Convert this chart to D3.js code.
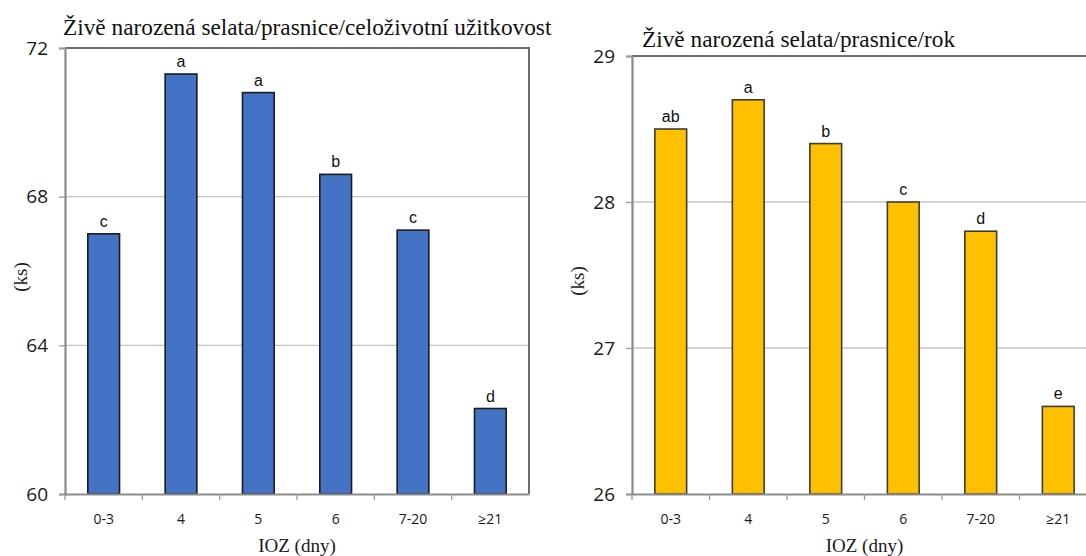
<!DOCTYPE html>
<html>
<head>
<meta charset="utf-8">
<script src="https://cdn.jsdelivr.net/npm/d3@7"></script>
<style>
  html, body { margin: 0; padding: 0; background: #fff; }
  svg { display: block; }
  .serif { font-family: "Liberation Serif", "Times New Roman", serif; }
  .sans { font-family: "Open Sans", "Liberation Sans", sans-serif; }
  .arial { font-family: "Liberation Sans", Arial, sans-serif; }
</style>
</head>
<body>
<svg id="chart" width="1086" height="556"></svg>
<script>
// Interval odstav–zapuštění (IOZ) categories
const categories = ["0-3", "4", "5", "6", "7-20", "\u226521"];

// Lifetime live-born piglets per sow
const lifetimeValues = [67.0, 71.3, 70.8, 68.6, 67.1, 62.3];
const lifetimeLetters = ["c", "a", "a", "b", "c", "d"];
const lifetimeTicks = [60, 64, 68, 72];

// Live-born piglets per sow per year
const yearValues = [28.5, 28.7, 28.4, 28.0, 27.8, 26.6];
const yearLetters = ["ab", "a", "b", "c", "d", "e"];
const yearTicks = [26, 27, 28, 29];

const svg = d3.select("#chart");

function drawPanel(cfg) {
  const g = svg.append("g");
  const x = d3.scaleBand().domain(categories).range([cfg.left, cfg.right]).padding(0);
  const y = d3.scaleLinear().domain(cfg.domain).range([cfg.bottom, cfg.top]);

  // horizontal gridlines
  g.append("g").selectAll("line")
    .data(cfg.ticks.filter(t => t !== cfg.domain[0] && t !== cfg.domain[1]))
    .join("line")
    .attr("x1", cfg.left).attr("x2", cfg.right)
    .attr("y1", d => y(d)).attr("y2", d => y(d))
    .attr("stroke", "#c4c4c4").attr("stroke-width", 1.3);

  // frame top and right
  g.append("path")
    .attr("d", `M${cfg.left},${cfg.top}H${cfg.right}V${cfg.bottom}`)
    .attr("fill", "none").attr("stroke", "#6e6e6e").attr("stroke-width", 2);

  // bars
  const bw = x.bandwidth() * 0.41;
  g.append("g").selectAll("rect")
    .data(cfg.values)
    .join("rect")
    .attr("x", (d, i) => x(categories[i]) + (x.bandwidth() - bw) / 2)
    .attr("width", bw)
    .attr("y", d => y(d))
    .attr("height", d => cfg.bottom - y(d))
    .attr("fill", cfg.color)
    .attr("stroke", cfg.edge).attr("stroke-width", 1.6);

  // significance letters
  g.append("g").selectAll("text")
    .data(cfg.values)
    .join("text")
    .attr("class", "arial")
    .attr("x", (d, i) => x(categories[i]) + x.bandwidth() / 2)
    .attr("y", d => y(d) - 7)
    .attr("text-anchor", "middle")
    .attr("font-size", 16)
    .attr("fill", "#111")
    .text((d, i) => cfg.letters[i]);

  // y axis
  const yAxis = d3.axisLeft(y).tickValues(cfg.ticks).tickSize(6).tickPadding(11).tickFormat(d3.format("d"));
  const ya = g.append("g").attr("transform", `translate(${cfg.left},0)`).call(yAxis);
  ya.attr("font-family", null).attr("font-size", null);
  ya.select(".domain").attr("stroke", "#8c8c8c").attr("stroke-width", 2.2);
  ya.selectAll(".tick line").attr("stroke", "#9a9a9a").attr("stroke-width", 1.3);
  ya.selectAll(".tick text")
    .attr("class", "sans")
    .attr("font-size", 19).attr("fill", "#1a1a1a");

  // x axis with ticks at category boundaries
  const xAxis = d3.axisBottom(x).tickSize(0).tickPadding(20);
  const xa = g.append("g").attr("transform", `translate(0,${cfg.bottom})`).call(xAxis);
  xa.attr("font-family", null).attr("font-size", null);
  xa.select(".domain").attr("stroke", "#8c8c8c").attr("stroke-width", 2.2);
  xa.selectAll(".tick text")
    .attr("class", "sans")
    .attr("font-size", 14).attr("fill", "#1a1a1a");
  xa.append("g").selectAll("line")
    .data(categories)
    .join("line")
    .attr("x1", d => x(d)).attr("x2", d => x(d))
    .attr("y1", 0).attr("y2", 6)
    .attr("stroke", "#9a9a9a").attr("stroke-width", 1.3);

  // titles
  g.append("text")
    .attr("class", "serif")
    .attr("x", cfg.titleX).attr("y", cfg.titleY)
    .attr("font-size", 23.3).attr("fill", "#111")
    .text(cfg.title);

  g.append("text")
    .attr("class", "serif")
    .attr("x", (cfg.left + cfg.right) / 2).attr("y", 552)
    .attr("text-anchor", "middle")
    .attr("font-size", 19).attr("fill", "#1a1a1a")
    .text("IOZ (dny)");

  g.append("text")
    .attr("class", "serif")
    .attr("transform", `translate(${cfg.yLabelX},${(cfg.top + cfg.bottom) / 2 + 6}) rotate(-90)`)
    .attr("text-anchor", "middle")
    .attr("font-size", 19).attr("fill", "#1a1a1a")
    .text("(ks)");
}

drawPanel({
  left: 65, right: 529, top: 48, bottom: 494,
  domain: [60, 72], ticks: lifetimeTicks,
  values: lifetimeValues, letters: lifetimeLetters,
  color: "#4472c4", edge: "#1c1c1c",
  title: "Živě narozená selata/prasnice/celoživotní užitkovost",
  titleX: 63, titleY: 35, yLabelX: 27
});

drawPanel({
  left: 632, right: 1097, top: 56, bottom: 494,
  domain: [26, 29], ticks: yearTicks,
  values: yearValues, letters: yearLetters,
  color: "#ffc000", edge: "#3c3c3c",
  title: "Živě narozená selata/prasnice/rok",
  titleX: 642, titleY: 47, yLabelX: 584
});
</script>
</body>
</html>
